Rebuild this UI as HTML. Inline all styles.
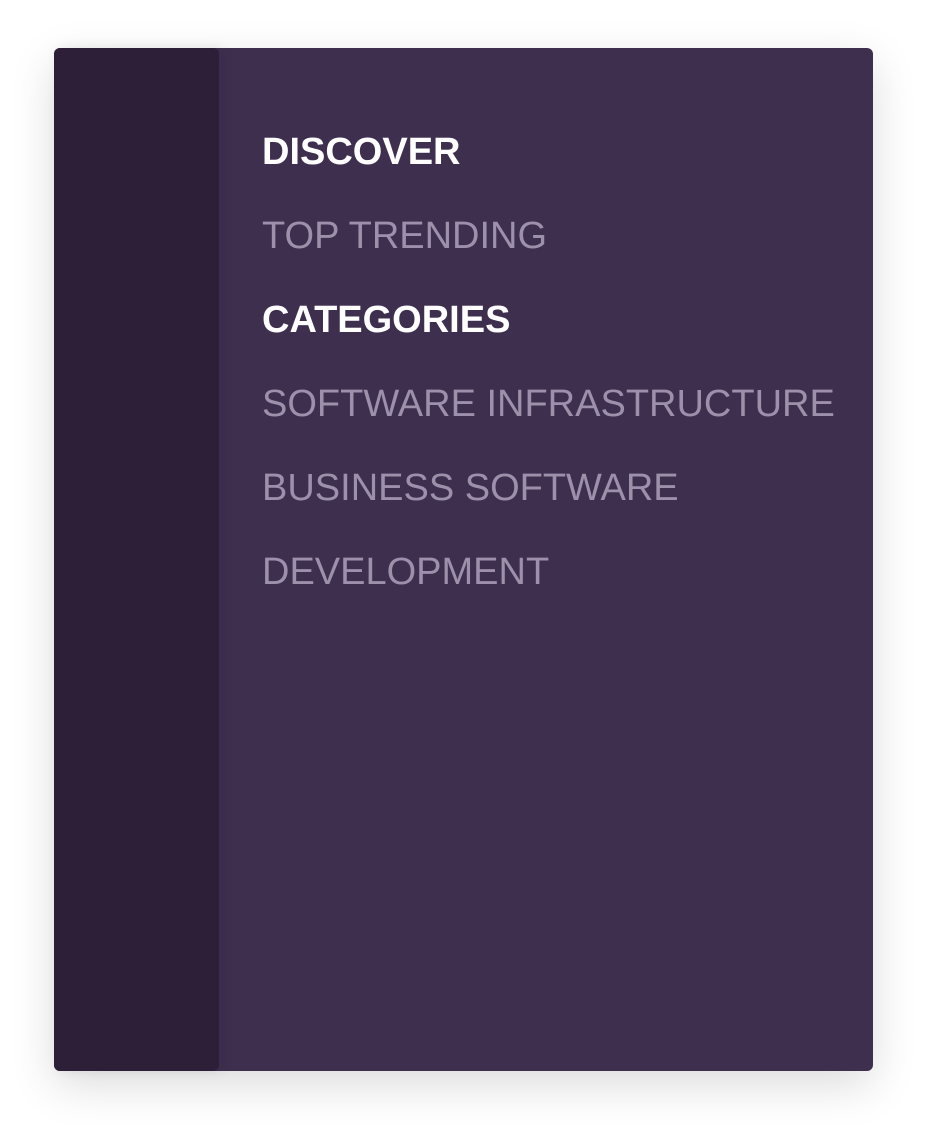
<!DOCTYPE html>
<html><head><style>
html,body{margin:0;padding:0;width:927px;height:1131px;background:#fff;overflow:hidden}
.card{position:absolute;left:54px;top:48px;width:819px;height:1023px;background:#3e2f4f;border-radius:6px;box-shadow:0 14px 45px rgba(0,0,0,0.14)}
.side{position:absolute;left:54px;top:48px;width:165px;height:1023px;background:#2c1f37;border-radius:6px;box-shadow:4px 0 12px rgba(0,0,0,0.08)}
.menu{position:absolute;left:262px;top:110px;font-family:"Liberation Sans",sans-serif;font-size:38px;line-height:84px;white-space:nowrap}
.menu div{height:84px;color:#9d90aa}
.menu .h{color:#fff;font-weight:bold}
</style></head><body>
<div class="card"></div>
<div class="side"></div>
<div class="menu">
<div class="h">DISCOVER</div>
<div>TOP TRENDING</div>
<div class="h">CATEGORIES</div>
<div>SOFTWARE INFRASTRUCTURE</div>
<div>BUSINESS SOFTWARE</div>
<div>DEVELOPMENT</div>
</div>
</body></html>
